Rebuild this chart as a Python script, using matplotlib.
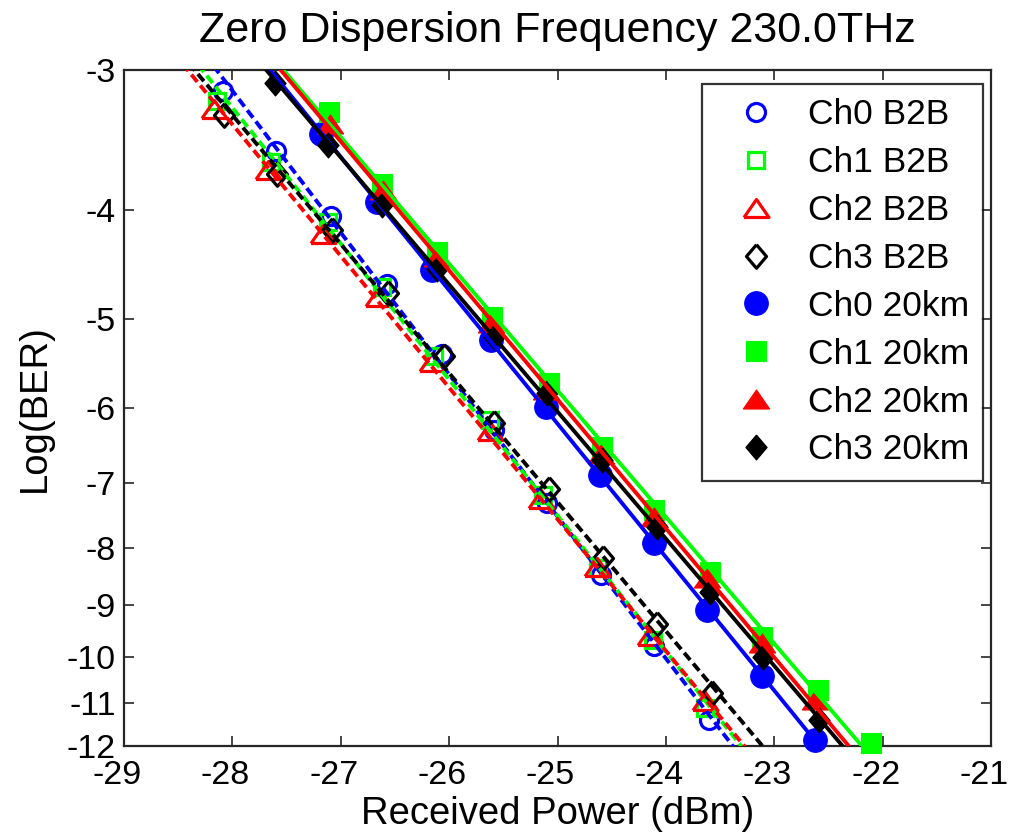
import matplotlib
matplotlib.use('Agg')
import matplotlib.pyplot as plt
import matplotlib.transforms as mtrans
import numpy as np

plt.rcParams['font.family'] = ['Liberation Sans', 'DejaVu Sans']

# received power (dBm) and log10(BER)
ch0_b2b_x = [-28.09, -27.60, -27.09, -26.57, -26.07, -25.59, -25.10, -24.60, -24.11, -23.60]
ch0_b2b_y = [-3.13, -3.54, -4.05, -4.65, -5.37, -6.28, -7.30, -8.46, -9.79, -11.38]
ch1_b2b_x = [-28.14, -27.64, -27.12, -26.62, -26.14, -25.62, -25.13, -24.63, -24.12, -23.64]
ch1_b2b_y = [-3.20, -3.62, -4.10, -4.68, -5.40, -6.15, -7.18, -8.33, -9.66, -11.11]
ch2_b2b_x = [-28.17, -27.67, -27.16, -26.66, -26.16, -25.62, -25.15, -24.64, -24.15, -23.64]
ch2_b2b_y = [-3.25, -3.68, -4.20, -4.78, -5.46, -6.29, -7.23, -8.32, -9.58, -10.95]
ch3_b2b_x = [-28.08, -27.59, -27.08, -26.56, -26.05, -25.59, -25.08, -24.58, -24.08, -23.57]
ch3_b2b_y = [-3.29, -3.71, -4.17, -4.74, -5.40, -6.19, -7.08, -8.16, -9.35, -10.78]

ch0_20_x = [-27.18, -26.67, -26.16, -25.61, -25.11, -24.61, -24.11, -23.62, -23.11, -22.62]
ch0_20_y = [-3.42, -3.93, -4.52, -5.22, -5.99, -6.89, -7.92, -9.09, -10.41, -11.86]
ch1_20_x = [-27.11, -26.62, -26.11, -25.60, -25.08, -24.59, -24.11, -23.59, -23.11, -22.60, -22.11]
ch1_20_y = [-3.27, -3.79, -4.36, -4.98, -5.70, -6.50, -7.40, -8.41, -9.60, -10.70, -11.94]
ch2_20_x = [-27.10, -26.61, -26.11, -25.61, -25.11, -24.60, -24.11, -23.62, -23.11, -22.62]
ch2_20_y = [-3.35, -3.84, -4.40, -5.04, -5.78, -6.59, -7.50, -8.50, -9.73, -10.93]
ch3_20_x = [-27.61, -27.12, -26.62, -26.11, -25.59, -25.10, -24.59, -24.08, -23.59, -23.10, -22.59]
ch3_20_y = [-3.08, -3.50, -3.96, -4.51, -5.19, -5.82, -6.68, -7.66, -8.76, -10.00, -11.38]

yticks = [-3, -4, -5, -6, -7, -8, -9, -10, -11, -12]
xticks = [-29, -28, -27, -26, -25, -24, -23, -22, -21]

# matlab-like marker shapes (flat triangle, tall diamond)
TRI = [(-1, -0.72), (1, -0.72), (0, 0.72), (-1, -0.72)]
DIA = [(0, 1), (0.85, 0), (0, -1), (-0.85, 0), (0, 1)]


def fwd(y):
    return -np.log10(np.abs(y))


def inv(t):
    return -10 ** (-t)


def fit_line(x, y):
    # straight line in the ber scale
    p = np.polyfit(x, np.log10(-np.array(y)), 1)
    xx = np.linspace(-29.5, -20.5, 300)
    return xx, -10 ** np.polyval(p, xx)


fig = plt.figure(figsize=(10.11, 8.36), dpi=100)
ax = fig.add_axes([0.1227, 0.108, 0.8575, 0.8083])
ax.set_yscale('function', functions=(fwd, inv))

b2b = [(ch0_b2b_x, ch0_b2b_y, 'b', 'o', 'Ch0 B2B'),
       (ch1_b2b_x, ch1_b2b_y, '#00ff00', 's', 'Ch1 B2B'),
       (ch2_b2b_x, ch2_b2b_y, 'r', TRI, 'Ch2 B2B'),
       (ch3_b2b_x, ch3_b2b_y, 'k', DIA, 'Ch3 B2B')]
km20 = [(ch0_20_x, ch0_20_y, 'b', 'o', 'Ch0 20km'),
        (ch1_20_x, ch1_20_y, '#00ff00', 's', 'Ch1 20km'),
        (ch2_20_x, ch2_20_y, 'r', TRI, 'Ch2 20km'),
        (ch3_20_x, ch3_20_y, 'k', DIA, 'Ch3 20km')]

open_ms = [13, 12, 18, 17]
fill_ms = [17, 14, 19, 18]

for (x, y, c, m, lab), ms in zip(b2b, open_ms):
    ax.plot(x, y, ls='none', marker=m, ms=ms, mfc='none', mec=c, mew=2.3,
            label=lab, clip_on=False, zorder=3)
for (x, y, c, m, lab), ms in zip(km20, fill_ms):
    ax.plot(x, y, ls='none', marker=m, ms=ms, mfc=c, mec=c, mew=0.8,
            label=lab, clip_on=False, zorder=3)

for x, y, c, m, lab in b2b:
    xx, yy = fit_line(x, y)
    ax.plot(xx, yy, color=c, lw=2.8, ls=(0, (2.4, 1.2)), zorder=4)
for x, y, c, m, lab in km20:
    xx, yy = fit_line(x, y)
    ax.plot(xx, yy, color=c, lw=2.8, zorder=4)

ax.set_xlim(-29, -21)
ax.set_ylim(-12, -3)
ax.set_xticks(xticks)
ax.set_xticklabels([str(v) for v in xticks])
ax.set_yticks(yticks)
ax.set_yticklabels([str(v) for v in yticks])
ax.minorticks_off()
ax.tick_params(direction='in', length=7.5, width=1.2, colors='#262626',
               labelcolor='k', labelsize=24.5, top=True, right=True)
ax.tick_params(axis='y', pad=6)
ax.tick_params(axis='x', pad=10)
for s in ax.spines.values():
    s.set_linewidth(1.6)
    s.set_color('#262626')

# matlab puts the x labels a bit left of the tick
shift = mtrans.ScaledTranslation(-5 / 72, 0, fig.dpi_scale_trans)
for lbl in ax.get_xticklabels():
    lbl.set_transform(lbl.get_transform() + shift)

ax.set_xlabel('Received Power (dBm)', fontsize=27.5, labelpad=4)
ax.set_ylabel('Log(BER)', fontsize=27.5, labelpad=10)
ax.set_title('Zero Dispersion Frequency 230.0THz', fontsize=31, pad=20)

leg = ax.legend(loc='upper left', bbox_to_anchor=(0.6661, 0.979), borderaxespad=0,
                fontsize=25.5, frameon=True, fancybox=False, numpoints=1,
                handletextpad=0.3, labelspacing=0.42, borderpad=0.4, handlelength=2.3)
leg.get_frame().set_edgecolor('k')
leg.get_frame().set_linewidth(1.6)

fig.savefig('out.png', dpi=100)
